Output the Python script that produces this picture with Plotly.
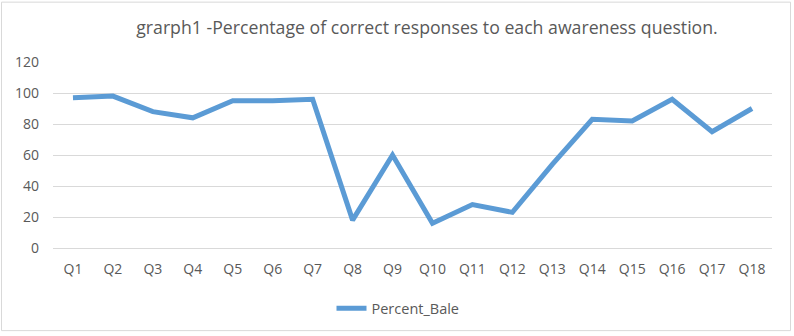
import plotly.graph_objects as go

categories = [f"Q{i}" for i in range(1, 19)]
percent_bale = [97, 98, 88, 84, 95, 95, 96, 18, 60, 16, 28, 23, 54, 83, 82, 96, 75, 90]
y_ticks = [0, 20, 40, 60, 80, 100, 120]
title_text = "grarph1 -Percentage of correct responses to each awareness question."
series_name = "Percent_Bale"

W, H = 794, 336
L, R, T, B = 53, 22, 62, 86
pw, ph = W - L - R, H - T - B

def px_x(p):
    return (p - L) / pw

def px_y(p):
    return (H - B - p) / ph

font_family = "Open Sans, Noto Sans, sans-serif"

fig = go.Figure()
fig.add_trace(go.Scatter(
    x=categories, y=percent_bale, mode="lines", name=series_name,
    line=dict(color="#5B9BD5", width=5, shape="linear"),
))

fig.update_layout(
    width=W, height=H,
    margin=dict(l=L, r=R, t=T, b=B),
    paper_bgcolor="white", plot_bgcolor="white",
    font=dict(family=font_family, color="#595959", size=14),
    title=dict(text=title_text, x=px_x(427), xref="paper", xanchor="center",
               y=1 - 28 / H, yanchor="middle",
               font=dict(size=17.7, color="#595959", family=font_family)),
    showlegend=True,
    legend=dict(orientation="h", x=px_x(398), xanchor="center", y=px_y(311), yanchor="middle",
                font=dict(size=14.5, color="#595959"), bgcolor="rgba(0,0,0,0)"),
    xaxis=dict(showgrid=False, showline=False, zeroline=False, ticks="",
               range=[-0.5, len(categories) - 0.5],
               tickfont=dict(size=14, color="#595959"), ticklabelstandoff=11),
    yaxis=dict(range=[0, 120], tickvals=y_ticks, showgrid=True, gridcolor="#D9D9D9",
               gridwidth=1, zeroline=True, zerolinecolor="#D9D9D9", zerolinewidth=1,
               showline=False, ticks="", tickfont=dict(size=14, color="#595959"),
               ticklabelstandoff=13),
    shapes=[dict(type="rect", xref="paper", yref="paper",
                 x0=px_x(1.5), x1=px_x(790.5), y0=px_y(333.5), y1=px_y(1.5),
                 line=dict(color="#D9D9D9", width=1), fillcolor="rgba(0,0,0,0)", layer="below")],
)

fig.write_html("out.html")
